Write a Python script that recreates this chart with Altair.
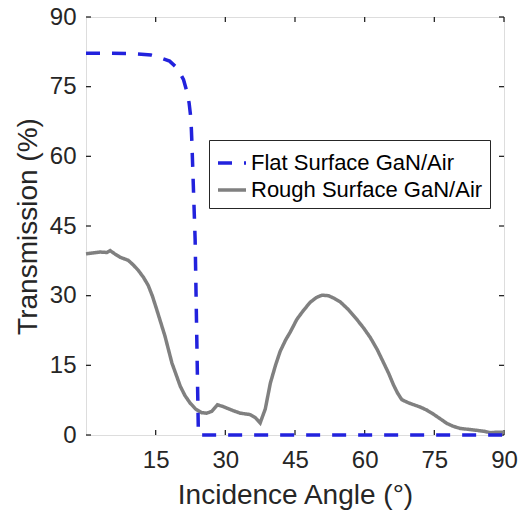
import altair as alt
import pandas as pd

# ---- data ----
flat_angle = [0, 5, 10, 14, 16, 18, 19.2, 20.2, 21.0, 21.7, 22.2, 22.6, 22.8, 23.5, 24.2, 30, 45, 60, 75, 90]
flat_T = [82.2, 82.2, 82.1, 81.8, 81.2, 80.5, 79.4, 78.0, 76.5, 74.0, 71.5, 68.0, 63.0, 42.0, 0, 0, 0, 0, 0, 0]

rough_angle = [0, 1.5, 3, 4.5, 5.2, 6.2, 7.3, 9.1, 10.2, 11.3, 12.4, 13.4, 14.3, 15.2, 16.1, 17.0,
               18.5, 20.3, 21.3, 22.4, 23.6, 24.9, 26.0, 27.1, 28.3, 29.3, 30.3, 31.8, 33.2, 35.3,
               36.5, 37.5, 38.6, 39.7, 40.8, 41.8, 43.0, 44.0, 45.4, 46.8, 48.3, 49.6, 50.8, 52.2,
               53.5, 54.7, 56.5, 58.3, 59.8, 61.2, 62.7, 64.1, 65.2, 66.2, 67.1, 68.0, 69.5, 72.0,
               73.3, 74.5, 76.1, 77.7, 79.0, 80.6, 82.5, 84.2, 85.7, 87.1, 88.5, 90]
rough_T = [39.0, 39.2, 39.4, 39.3, 39.7, 39.0, 38.3, 37.6, 36.6, 35.4, 33.9, 32.2, 29.9, 27.1, 24.2, 21.3,
           15.5, 10.5, 8.5, 6.9, 5.6, 4.8, 4.7, 5.1, 6.5, 6.2, 5.8, 5.2, 4.7, 4.4,
           3.7, 2.6, 5.6, 11.2, 15.0, 18.0, 20.5, 22.2, 24.9, 26.8, 28.6, 29.6, 30.1, 30.0,
           29.4, 28.7, 27.0, 24.9, 23.0, 21.0, 18.4, 15.5, 13.2, 10.8, 9.0, 7.6, 6.9, 6.0,
           5.4, 4.7, 3.6, 2.5, 1.9, 1.4, 1.2, 1.0, 0.8, 0.5, 0.6, 0.6]

series_names = ["Flat Surface GaN/Air", "Rough Surface GaN/Air"]
series_colors = ["#2222dd", "#808080"]

x_ticks = [15, 30, 45, 60, 75, 90]
y_ticks = [0, 15, 30, 45, 60, 75, 90]

W, H = 418, 418
TXT = "#262626"
FONT = "Liberation Sans"

df = pd.concat([
    pd.DataFrame({"angle": rough_angle, "T": rough_T, "series": series_names[1], "order": list(range(len(rough_angle)))}),
    pd.DataFrame({"angle": flat_angle, "T": flat_T, "series": series_names[0], "order": list(range(len(flat_angle)))}),
])

xs = alt.Scale(domain=[0, 90], nice=False, zero=False)
ys = alt.Scale(domain=[0, 90], nice=False, zero=False)

lines = alt.Chart(df).mark_line(strokeWidth=3.5, strokeCap="butt").encode(
    x=alt.X("angle:Q", scale=xs,
            axis=alt.Axis(values=x_ticks, title="Incidence Angle (°)", ticks=False, domain=False, grid=False,
                          labelFontSize=24, labelColor=TXT, labelPadding=13, labelFont=FONT, labelFlush=False,
                          titleFontSize=28, titleFont=FONT, titleColor=TXT, titleFontWeight="normal",
                          titlePadding=9)),
    y=alt.Y("T:Q", scale=ys,
            axis=alt.Axis(values=y_ticks, title="Transmission (%)", ticks=False, domain=False, grid=False,
                          labelFontSize=24, labelColor=TXT, labelPadding=10, labelFont=FONT, labelFlush=False,
                          titleFontSize=28, titleFont=FONT, titleColor=TXT, titleFontWeight="normal",
                          titlePadding=7)),
    color=alt.Color("series:N", title=None,
                    scale=alt.Scale(domain=series_names, range=series_colors),
                    legend=alt.Legend(orient="none", legendX=123, legendY=123,
                                      symbolType="stroke", symbolSize=784, symbolStrokeWidth=3.5,
                                      labelFontSize=22, labelFont=FONT, labelColor="#000000",
                                      labelOffset=3, labelLimit=400, padding=7, rowPadding=0,
                                      strokeColor=TXT, fillColor="white")),
    strokeDash=alt.StrokeDash("series:N", title=None,
                              scale=alt.Scale(domain=series_names, range=[[14, 12], [1, 0]])),
    order="order:Q",
    detail="series:N",
)

xt = pd.DataFrame({"v": x_ticks})
yt = pd.DataFrame({"v": y_ticks})
tick_col = TXT
tb = alt.Chart(xt).mark_rule(color=tick_col, strokeWidth=1.3).encode(
    x=alt.X("v:Q", scale=xs), y=alt.value(H), y2=alt.value(H - 5))
tt = alt.Chart(xt).mark_rule(color=tick_col, strokeWidth=1.3).encode(
    x=alt.X("v:Q", scale=xs), y=alt.value(0), y2=alt.value(5))
tl = alt.Chart(yt).mark_rule(color=tick_col, strokeWidth=1.3).encode(
    y=alt.Y("v:Q", scale=ys), x=alt.value(0), x2=alt.value(5))
tr = alt.Chart(yt).mark_rule(color=tick_col, strokeWidth=1.3).encode(
    y=alt.Y("v:Q", scale=ys), x=alt.value(W), x2=alt.value(W - 5))

chart = alt.layer(tb, tt, tl, tr, lines).properties(
    width=W, height=H,
    padding={"left": 86, "top": 17, "right": 15, "bottom": 82},
    autosize=alt.AutoSizeParams(type="none"),
).configure_view(
    stroke="#404040", strokeWidth=1.5
).configure(background="white")

chart.save("out.html", embed_options={"renderer": "svg", "actions": False})
